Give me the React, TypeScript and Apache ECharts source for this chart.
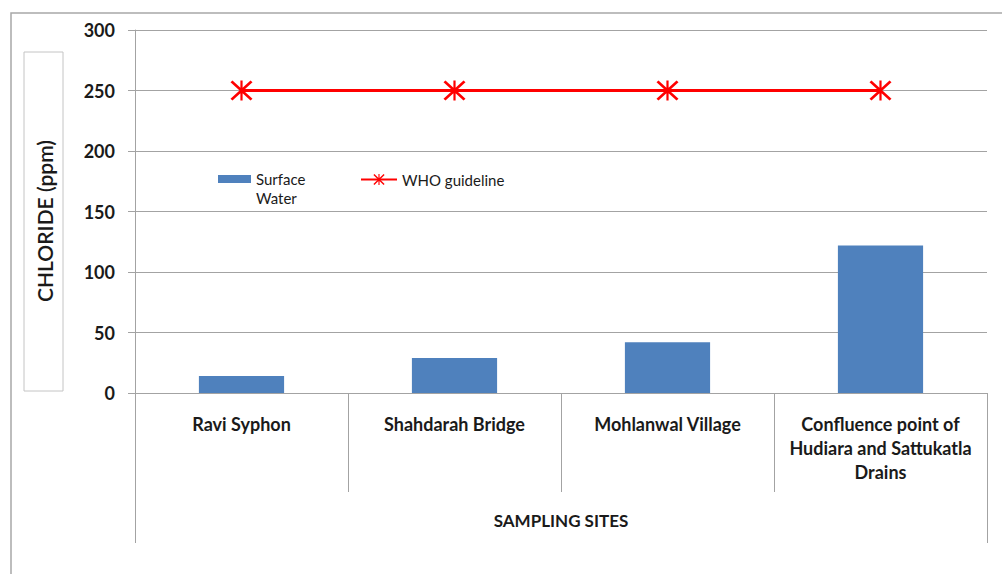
import React, { useEffect, useRef } from "react";
import * as echarts from "echarts";

const categories = [
  "Ravi Syphon",
  "Shahdarah Bridge",
  "Mohlanwal Village",
  "Confluence point of\nHudiara and Sattukatla\nDrains",
];
const surfaceWater = [14, 29, 42, 122];
const whoGuideline = [250, 250, 250, 250];
const outerAxisLabel = ["SAMPLING SITES"];
const yMin = 0;
const yMax = 300;
const yInterval = 50;
const seriesNames = ["Surface Water", "WHO guideline"];
const yTitle = "CHLORIDE (ppm)";

const asterisk =
  "path://M9,0 L11,0 L11,20 L9,20 Z M1.8,0 L20,18.2 L18.2,20 L0,1.8 Z M18.2,0 L20,1.8 L1.8,20 L0,18.2 Z";

const FONT = "Lato";
const GRID_COLOR = "#a3a3a3";
const TEXT_COLOR = "#1a1a1a";

export default function App() {
  const ref = useRef<HTMLDivElement>(null);
  useEffect(() => {
    if (!ref.current) return;
    const chart = echarts.init(ref.current, null, { renderer: "svg" });
    chart.setOption({
      animation: false,
      backgroundColor: "#ffffff",
      grid: { left: 135, right: 15, top: 30, bottom: 181, containLabel: false },
      legend: [
        {
          data: [seriesNames[0]],
          left: 218,
          top: 150.5,
          padding: 0,
          itemWidth: 33,
          itemHeight: 8,
          icon: "rect",
          formatter: () => "\nSurface\nWater",
          textStyle: {
            fontFamily: FONT,
            fontSize: 15,
            lineHeight: 19,
            color: TEXT_COLOR,
          },
        },
        {
          data: [seriesNames[1]],
          left: 360,
          top: 172,
          padding: 0,
          itemWidth: 36,
          itemHeight: 14,
          textStyle: { fontFamily: FONT, fontSize: 15, color: TEXT_COLOR },
        },
      ],
      xAxis: [
        {
          type: "category",
          data: categories,
          position: "bottom",
          axisLine: { show: true, lineStyle: { color: GRID_COLOR, width: 1 } },
          axisTick: { show: true, length: 99, interval: 0, lineStyle: { color: GRID_COLOR } },
          axisLabel: {
            interval: 0,
            margin: 19,
            fontFamily: FONT,
            fontWeight: "bold",
            fontSize: 18,
            lineHeight: 24,
            color: TEXT_COLOR,
            verticalAlign: "top",
          },
        },
        {
          type: "category",
          data: outerAxisLabel,
          position: "bottom",
          axisLine: { show: true, lineStyle: { color: GRID_COLOR, width: 1 } },
          axisTick: { show: true, length: 150, interval: 0, lineStyle: { color: GRID_COLOR } },
          axisLabel: {
            interval: 0,
            margin: 119,
            fontFamily: FONT,
            fontWeight: "bold",
            fontSize: 17,
            color: TEXT_COLOR,
            verticalAlign: "top",
          },
        },
      ],
      yAxis: {
        type: "value",
        min: yMin,
        max: yMax,
        interval: yInterval,
        axisLine: { show: true, lineStyle: { color: GRID_COLOR } },
        axisTick: { show: true, length: 7, lineStyle: { color: GRID_COLOR } },
        splitLine: { show: true, lineStyle: { color: GRID_COLOR, width: 1 } },
        axisLabel: {
          margin: 20,
          fontFamily: FONT,
          fontWeight: "bold",
          fontSize: 18,
          color: TEXT_COLOR,
        },
      },
      graphic: [
        {
          type: "rect",
          shape: { x: 11, y: 13, width: 1200, height: 800 },
          style: { fill: "none", stroke: "#a8a8a8", lineWidth: 1.5 },
          silent: true,
          z: -10,
        },
        {
          type: "rect",
          shape: { x: 24, y: 52, width: 39, height: 339 },
          style: { fill: "#ffffff", stroke: "#c4c4c4", lineWidth: 1 },
          silent: true,
        },
        {
          type: "text",
          x: 44,
          y: 221,
          rotation: Math.PI / 2,
          style: {
            text: yTitle,
            fontFamily: FONT,
            fontSize: 21,
            fontWeight: 600,
            fill: TEXT_COLOR,
            textAlign: "center",
            textVerticalAlign: "middle",
          },
          silent: true,
        },
      ],
      series: [
        {
          name: seriesNames[0],
          type: "bar",
          xAxisIndex: 0,
          data: surfaceWater,
          barWidth: "40%",
          itemStyle: { color: "#4f81bd" },
        },
        {
          name: seriesNames[1],
          type: "line",
          xAxisIndex: 0,
          data: whoGuideline,
          symbol: asterisk,
          symbolSize: [22, 20],
          lineStyle: { color: "#ff0000", width: 3 },
          itemStyle: { color: "#ff0000" },
          z: 5,
        },
      ],
    });
    return () => chart.dispose();
  }, []);
  return (
    <div
      ref={ref}
      style={{ position: "fixed", left: 0, top: 0, width: 1002, height: 574 }}
    />
  );
}
